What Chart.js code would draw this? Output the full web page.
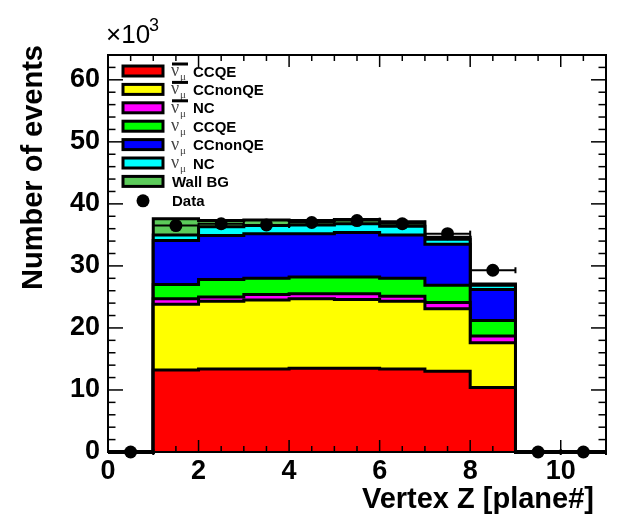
<!DOCTYPE html>
<html>
<head>
<meta charset="utf-8">
<script src="https://cdn.jsdelivr.net/npm/chart.js@4.4.1/dist/chart.umd.min.js"></script>
<style>
  html, body { margin: 0; padding: 0; background: #fff; }
</style>
</head>
<body>
<canvas id="myChart" width="626" height="518"></canvas>
<script>
// bins of Vertex Z (lower edges), width 1 plane
const binLow = [1, 2, 3, 4, 5, 6, 7, 8];
const binWidth = 1;

// MC components, events x10^3 per bin
const nubarCCQE    = [13.2, 13.4, 13.4, 13.5, 13.5, 13.4, 13.0, 10.4];
const nubarCCnonQE = [10.6, 10.9, 11.1, 11.2, 11.1, 10.9, 10.1, 7.2];
const nubarNC      = [0.9, 0.7, 0.9, 0.8, 0.9, 0.8, 1.0, 1.1];
const numuCCQE     = [2.3, 2.8, 2.6, 2.7, 2.7, 2.9, 2.8, 2.5];
const numuCCnonQE  = [7.1, 7.1, 7.2, 7.0, 7.2, 7.0, 6.6, 5.0];
const numuNC       = [0.9, 1.4, 1.3, 1.4, 1.4, 1.4, 0.8, 0.7];
const wallBG       = [2.6, 1.0, 0.9, 0.7, 0.7, 0.7, 0.3, 0.2];

// data points (bin centres), x10^3
const dataX = [0.5, 1.5, 2.5, 3.5, 4.5, 5.5, 6.5, 7.5, 8.5, 9.5, 10.5];
const dataY = [0, 36.5, 36.8, 36.6, 37.0, 37.3, 36.8, 35.2, 29.3, 0, 0];

const layers = [nubarCCQE, nubarCCnonQE, nubarNC, numuCCQE, numuCCnonQE, numuNC, wallBG];
const layerNames = ['CCQE', 'CCnonQE', 'NC', 'CCQE', 'CCnonQE', 'NC', 'Wall BG'];
const layerBar = [true, true, true, false, false, false, null];
const layerColors = ['#ff0000', '#ffff00', '#ff00ff', '#00ff00', '#0000ff', '#00ffff', '#5ccb5a'];

const xMin = 0, xMax = 11, yMax = 64;

// cumulative stack -> step outline points
let running = binLow.map(() => 0);
const stackSets = layers.map((vals, k) => {
  running = running.map((r, i) => r + vals[i]);
  const pts = [{x: xMin, y: 0}, {x: binLow[0], y: 0}];
  running.forEach((v, i) => pts.push({x: binLow[i], y: v}));
  pts.push({x: binLow[binLow.length - 1] + binWidth, y: 0});
  pts.push({x: xMax, y: 0});
  return {
    label: layerNames[k],
    data: pts,
    stepped: 'before',
    fill: 'origin',
    backgroundColor: layerColors[k],
    borderColor: '#000',
    borderWidth: 3,
    pointRadius: 0,
    order: k + 1,
    clip: false
  };
});

const dataSet = {
  label: 'Data',
  data: dataX.map((v, i) => ({x: v, y: dataY[i]})),
  showLine: false,
  pointRadius: 6.5,
  pointBackgroundColor: '#000',
  pointBorderWidth: 0,
  order: 0,
  clip: false
};

const sans = '"Liberation Sans", Arial, sans-serif';

const rootStyle = {
  id: 'rootStyle',
  afterDraw(chart) {
    const {ctx, chartArea: a, scales: {x, y}} = chart;
    const seg = (x0, y0, x1, y1) => { ctx.beginPath(); ctx.moveTo(x0, y0); ctx.lineTo(x1, y1); ctx.stroke(); };
    ctx.save();
    ctx.strokeStyle = '#000';
    ctx.fillStyle = '#000';

    // horizontal error bars
    ctx.lineWidth = 2;
    dataX.forEach((v, i) => {
      const py = y.getPixelForValue(dataY[i]);
      const x0 = x.getPixelForValue(v - binWidth / 2);
      const x1 = x.getPixelForValue(v + binWidth / 2);
      seg(x0, py, x1, py);
      seg(x1, py - 3, x1, py + 3);
    });

    // frame
    ctx.lineWidth = 2;
    ctx.strokeRect(a.left, a.top, a.right - a.left, a.bottom - a.top);

    // ticks inside the frame
    ctx.lineWidth = 1.5;
    for (let v = 0; v <= yMax; v += 2) {
      const py = y.getPixelForValue(v);
      const len = v % 10 === 0 ? 15 : 7.5;
      seg(a.left, py, a.left + len, py);
      seg(a.right, py, a.right - len, py);
    }
    for (let v = xMin; v <= xMax; v += 0.5) {
      const px = x.getPixelForValue(v);
      const len = v % 2 === 0 ? 12 : 6;
      seg(px, a.bottom, px, a.bottom - len);
      seg(px, a.top, px, a.top + len);
    }

    // legend
    const rowY0 = 71, rowStep = 18.4;
    layerNames.forEach((name, i) => {
      const cy = rowY0 + i * rowStep;
      ctx.fillStyle = layerColors[i];
      ctx.fillRect(123, cy - 5, 40, 10);
      ctx.lineWidth = 3;
      ctx.strokeRect(123, cy - 5, 40, 10);
      ctx.fillStyle = '#000';
      ctx.textBaseline = 'alphabetic';
      ctx.textAlign = 'left';
      if (layerBar[i] === null) {
        ctx.font = 'bold 15px ' + sans;
        ctx.fillText(name, 172, cy + 5.5);
      } else {
        ctx.font = '18px "Liberation Serif", serif';
        ctx.fillStyle = '#444';
        ctx.fillText('\u03bd', 171, cy + 5);
        ctx.font = '11px "Liberation Serif", serif';
        ctx.fillText('\u03bc', 180, cy + 9);
        ctx.fillStyle = '#000';
        if (layerBar[i]) ctx.fillRect(172, cy - 8.5, 16, 3);
        ctx.font = 'bold 15px ' + sans;
        ctx.fillText(name, 193, cy + 5.5);
      }
    });
    const dy = rowY0 + 7 * rowStep + 1;
    ctx.beginPath(); ctx.arc(143, dy, 6.5, 0, 2 * Math.PI); ctx.fill();
    ctx.font = 'bold 15px ' + sans;
    ctx.fillText('Data', 172, dy + 5.5);

    // x10^3
    ctx.font = '26px ' + sans;
    ctx.fillText('\u00d710', 106, 43);
    ctx.font = '18px ' + sans;
    ctx.fillText('3', 149, 31);

    // axis titles
    ctx.font = 'bold 29px ' + sans;
    ctx.textAlign = 'right';
    ctx.fillText('Vertex Z [plane#]', 594, 508);
    ctx.translate(42, 45);
    ctx.rotate(-Math.PI / 2);
    ctx.textBaseline = 'alphabetic';
    ctx.fillText('Number of events', 0, 0);
    ctx.restore();
  }
};

const config = {
  type: 'line',
  data: { datasets: [dataSet, ...stackSets] },
  options: {
    responsive: false,
    animation: false,
    layout: { padding: { left: 0, right: 20, top: 55, bottom: 0 } },
    plugins: { legend: { display: false }, tooltip: { enabled: false } },
    scales: {
      x: {
        type: 'linear',
        min: xMin,
        max: xMax,
        grid: { display: false, drawTicks: false },
        border: { display: false },
        ticks: {
          stepSize: 2,
          includeBounds: false,
          maxRotation: 0,
          autoSkip: false,
          padding: 3,
          color: '#000',
          font: { family: sans, size: 27, weight: 'bold' }
        },
        afterFit: (s) => { s.height = 66; }
      },
      y: {
        min: 0,
        max: yMax,
        grid: { display: false, drawTicks: false },
        border: { display: false },
        ticks: {
          stepSize: 10,
          includeBounds: false,
          padding: 8,
          color: '#000',
          font: { family: sans, size: 27, weight: 'bold' }
        },
        afterFit: (s) => { s.width = 108; }
      }
    }
  },
  plugins: [rootStyle]
};

const myChart = new Chart(document.getElementById('myChart'), config);
</script>
</body>
</html>
